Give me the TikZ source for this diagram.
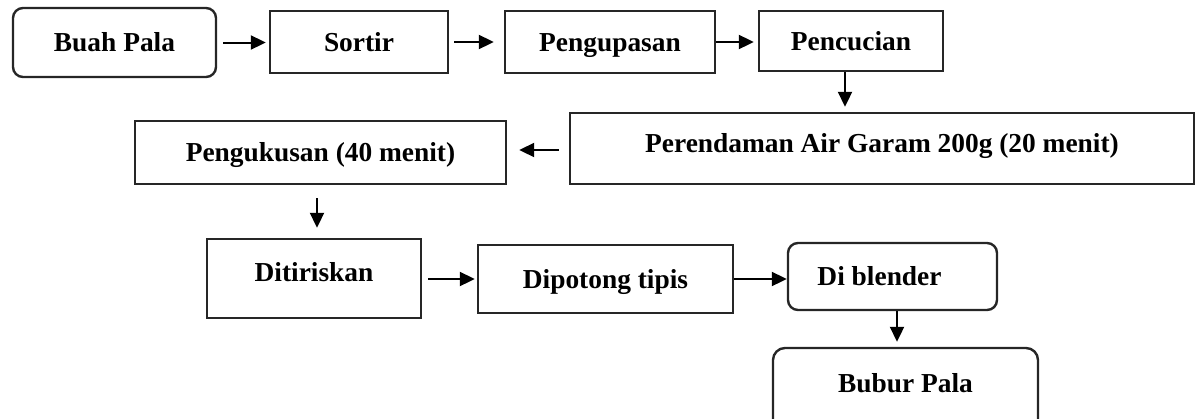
\documentclass[tikz,border=0pt]{standalone}
\usepackage{fontspec}
\setmainfont{Liberation Serif}
\usetikzlibrary{arrows.meta}
\begin{document}
\begin{tikzpicture}[x=0.5pt,y=-0.5pt,
  box/.style={draw=black!85, line width=1.2pt, inner sep=0pt,
    font=\fontsize{13.7pt}{16pt}\selectfont\bfseries, text=black,
    text height=9.6pt, text depth=0.6pt},
  rbox/.style={box, rounded corners=5pt},
  arr/.style={draw=black, line width=1pt, -{Triangle[length=7.5pt,width=7pt]}}]
\useasboundingbox (0,0) rectangle (1202,418);

\node[rbox, minimum width=101.5pt, minimum height=34.5pt] (buah) at (114.5,42.5) {Buah Pala};
\node[box, minimum width=89pt, minimum height=31pt] (sortir) at (359,42) {Sortir};
\node[box, minimum width=105pt, minimum height=31pt] (kupas) at (610,42) {Pengupasan};
\node[box, minimum width=92pt, minimum height=30pt] (cuci) at (851,41) {Pencucian};
\node[box, minimum width=312pt, minimum height=35.5pt, text depth=6.1pt] (rendam) at (882,148.5) {Perendaman Air Garam 200g (20 menit)};
\node[box, minimum width=185.5pt, minimum height=31.5pt] (kukus) at (320.5,152.5) {Pengukusan (40 menit)};
\node[box, minimum width=107pt, minimum height=39.5pt, text depth=7.1pt] (tiris) at (314,278.5) {Ditiriskan};
\node[box, minimum width=127.5pt, minimum height=34pt] (potong) at (605.5,279) {Dipotong tipis};
\node[rbox, minimum width=104.5pt, minimum height=33.5pt] (blender) at (892.5,276.5) {Di blender\hspace*{13pt}};
\node[rbox, rounded corners=6pt, minimum width=132.5pt, minimum height=43.5pt, text depth=9.1pt] (bubur) at (905.5,391.5) {Bubur Pala};

\draw[arr, shorten <=3pt, shorten >=1.5pt] (buah.east) -- (buah.east -| sortir.west);
\draw[arr, shorten <=2.5pt, shorten >=5pt] (sortir.east) -- (sortir.east -| kupas.west);
\draw[arr, shorten >=2pt] (kupas.east) -- (kupas.east -| cuci.west);
\draw[arr, shorten >=2.5pt] ([xshift=-3pt]cuci.south) -- ([xshift=-3pt]cuci.south |- rendam.north);
\draw[arr, shorten <=5pt, shorten >=6pt] ([yshift=-0.75pt]rendam.west) -- ([yshift=-0.75pt]rendam.west -| kukus.east);
\draw[arr, shorten <=6.5pt, shorten >=5pt] ([xshift=-1.75pt]kukus.south) -- ([xshift=-1.75pt]kukus.south |- tiris.north);
\draw[arr, shorten <=3pt, shorten >=1pt] (tiris.east |- potong.west) -- (potong.west);
\draw[arr] (potong.east) -- (potong.east -| blender.west);
\draw[arr, shorten >=2.5pt] ([xshift=2.25pt]blender.south) -- ([xshift=2.25pt]blender.south |- bubur.north);
\end{tikzpicture}
\end{document}
